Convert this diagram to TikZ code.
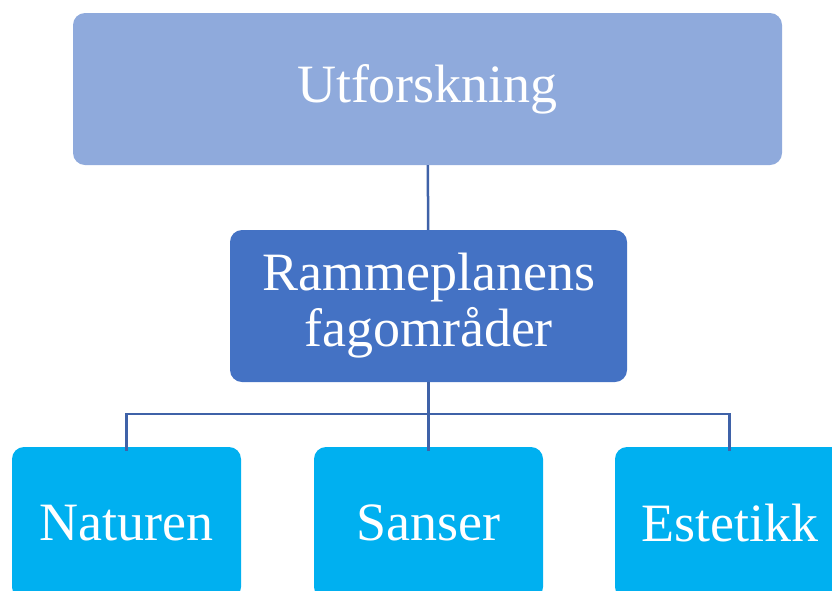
\documentclass[tikz,border=0pt]{standalone}
\usepackage{fontspec}
\setmainfont{Liberation Serif}
\definecolor{topblue}{HTML}{8FAADC}
\definecolor{midblue}{HTML}{4472C4}
\definecolor{leafblue}{HTML}{00B0F0}
\definecolor{linkblue}{HTML}{3F62A8}
\begin{document}
\begin{tikzpicture}
        [x=1pt,y=-1pt,
        box/.style={rectangle,rounded corners=12pt,draw=none,text=white,
            align=center,inner sep=0pt,minimum height=152pt,
            font=\fontsize{54}{56}\selectfont},
        topbox/.style={box,fill=topblue,minimum width=709pt},
        midbox/.style={box,fill=midblue,minimum width=397pt},
        leafbox/.style={box,fill=leafblue,minimum width=229pt},
        line/.style={draw=linkblue,line width=2.5pt}]
        \useasboundingbox (0,0) rectangle (832,590);
        \clip (0,0) rectangle (832,590);
        \node[topbox] (utf) at (427.5,89) {Utforskning};
        \node[midbox] (ramme) at (428.5,306) {Rammeplanens\\fagområder};
        \node[leafbox] (natur) at (126.5,523) {Naturen};
        \node[leafbox] (sans) at (428.5,523) {Sanser};
        \node[leafbox] (este) at (729.5,523) {Estetikk};
        \coordinate (hub) at (428.5,414);
        \draw[line] (utf) -- (ramme);
        \draw[line] (ramme) -- (hub);
        \draw[line] (hub) -| ([yshift=-4pt]natur.north);
        \draw[line] (hub) -- ([yshift=-4pt]sans.north);
        \draw[line] (hub) -| ([yshift=-4pt]este.north);
\end{tikzpicture}
\end{document}
